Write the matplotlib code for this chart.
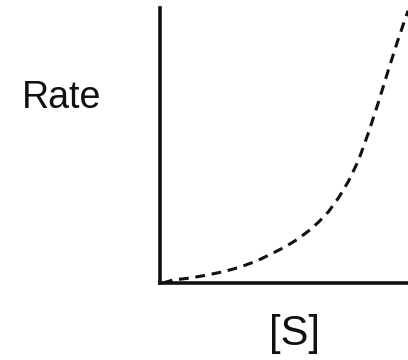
import matplotlib
matplotlib.use("Agg")
import matplotlib.pyplot as plt

# Curve (axis units 0..1)
substrate = [0.012, 0.052, 0.121, 0.19, 0.26, 0.323, 0.39, 0.456, 0.508, 0.556, 0.60,
             0.64, 0.68, 0.72, 0.76, 0.80, 0.84, 0.88, 0.92, 0.96, 1.0]
rate = [0.0, 0.011, 0.018, 0.029, 0.042, 0.058, 0.08, 0.109, 0.133, 0.160, 0.19,
        0.222, 0.26, 0.31, 0.37, 0.445, 0.545, 0.655, 0.772, 0.885, 0.99]
y_label = "Rate"
x_label = "[S]"

fig = plt.figure(figsize=(4.08, 3.6), dpi=100)
ax = fig.add_axes([160/408, 77/360, 248/408, 275/360])
ax.plot(substrate, rate, color="#111111", lw=2.2, linestyle=(0, (3.2, 2.2)),
        clip_on=False, solid_capstyle="butt")
ax.set_xlim(0, 1)
ax.set_ylim(0, 1)
for s in ["top", "right"]:
    ax.spines[s].set_visible(False)
for s in ["left", "bottom"]:
    ax.spines[s].set_linewidth(2.6)
    ax.spines[s].set_color("#111111")
ax.set_xticks([])
ax.set_yticks([])

fam = ["Liberation Sans", "DejaVu Sans"]
fig.text(62/408, 1 - 98/360, y_label, ha="center", va="center", fontsize=27, family=fam, color="#111111")
fig.text(295/408, 1 - 334/360, x_label, ha="center", va="center", fontsize=30, family=fam, color="#111111")

fig.savefig("out.png", dpi=100)
